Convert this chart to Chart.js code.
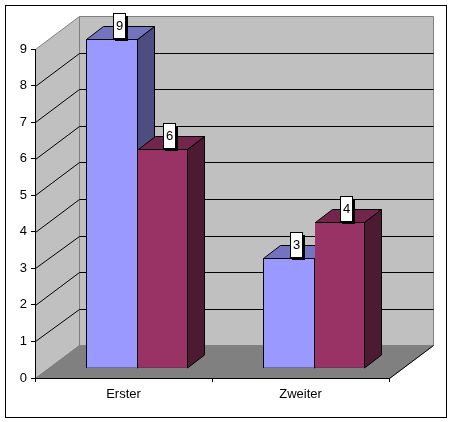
<!DOCTYPE html>
<html>
<head>
<meta charset="utf-8">
<title>Chart</title>
<script src="https://cdn.jsdelivr.net/npm/chart.js@4"></script>
<style>
	html, body { margin: 0; padding: 0; background: #fff; }
	canvas { display: block; }
</style>
</head>
<body>
<canvas id="bar-chart" width="452" height="422"></canvas>
<script>
var categories = ["Erster", "Zweiter"];
var series1 = [9, 3];
var series2 = [6, 4];
var yTicks = [0, 1, 2, 3, 4, 5, 6, 7, 8, 9];

// wall depth and how far the bars sit inside it
var wallX = 44, wallY = -32.8;
var barShiftX = 14, barShiftY = -10;
var barDepthX = 17, barDepthY = -13;

function poly(ctx, pts, fill, stroke) {
	ctx.beginPath();
	ctx.moveTo(pts[0][0], pts[0][1]);
	for (var i = 1; i < pts.length; i++) {
		ctx.lineTo(pts[i][0], pts[i][1]);
	}
	ctx.closePath();
	if (fill) {
		ctx.fillStyle = fill;
		ctx.fill();
	}
	if (stroke) {
		ctx.strokeStyle = stroke;
		ctx.lineWidth = 1;
		ctx.stroke();
	}
}

function line(ctx, x1, y1, x2, y2, color) {
	ctx.beginPath();
	ctx.moveTo(x1, y1);
	ctx.lineTo(x2, y2);
	ctx.strokeStyle = color;
	ctx.lineWidth = 1;
	ctx.stroke();
}

var box3d = {
	id: 'box3d',
	beforeDraw: function(chart) {
		var ctx = chart.ctx, a = chart.chartArea;
		var left = a.left + 0.5, right = a.right + 0.5;
		var top = a.top + 0.5, bottom = a.bottom + 0.5;
		var backL = left + wallX, backR = right + wallX;
		var backT = Math.round(a.top + wallY) + 0.5, backB = Math.round(a.bottom + wallY) + 0.5;
		ctx.save();
		ctx.fillStyle = '#fff';
		ctx.fillRect(0, 0, chart.width, chart.height);
		ctx.strokeStyle = '#000';
		ctx.lineWidth = 1;
		ctx.strokeRect(5.5, 5.5, 441, 412);

		// back wall, left wall, floor
		poly(ctx, [[backL, backT], [backR, backT], [backR, backB], [backL, backB]], '#c0c0c0', '#808080');
		poly(ctx, [[left, top], [backL, backT], [backL, backB], [left, bottom]], '#c0c0c0', '#808080');
		poly(ctx, [[left, bottom], [backL, backB], [backR, backB], [right, bottom]], '#808080', '#808080');
		line(ctx, right, bottom, backR, backB, '#000');

		// gridlines run across the left wall and the back wall
		var y = chart.scales.y;
		yTicks.forEach(function(v) {
			if (v === 0 || v === 9) return;
			var py = y.getPixelForValue(v);
			var front = Math.round(py) + 0.5, back = Math.round(py + wallY) + 0.5;
			line(ctx, left, front, backL, back, '#000');
			line(ctx, backL, back, backR, back, '#000');
		});
		ctx.restore();
	},
	beforeDatasetsDraw: function(chart) {
		var ctx = chart.ctx;
		// snap the bars to whole pixels so their outlines stay one pixel wide
		chart.data.datasets.forEach(function(ds, i) {
			chart.getDatasetMeta(i).data.forEach(function(bar) {
				var l = bar.x - bar.width / 2, r = bar.x + bar.width / 2;
				l = i === 0 ? Math.floor(l) : Math.ceil(l);
				r = i === 0 ? Math.ceil(r) : Math.floor(r);
				bar.x = (l + r) / 2;
				bar.width = r - l;
				bar.y = Math.round(bar.y + barShiftY) - barShiftY;
				bar.base = bar.base + 1;
			});
		});
		ctx.save();
		ctx.translate(barShiftX, barShiftY);
		chart.data.datasets.forEach(function(ds, i) {
			chart.getDatasetMeta(i).data.forEach(function(bar) {
				var l = bar.x - bar.width / 2 + 0.5, r = bar.x + bar.width / 2 - 0.5;
				var t = bar.y + 0.5, b = bar.base - 0.5;
				poly(ctx, [[r, t], [r + barDepthX, t + barDepthY], [r + barDepthX, b + barDepthY], [r, b]], ds.sideColor, '#000');
				poly(ctx, [[l, t], [l + barDepthX, t + barDepthY], [r + barDepthX, t + barDepthY], [r, t]], ds.topColor, '#000');
			});
		});
	},
	afterDatasetsDraw: function(chart) {
		var ctx = chart.ctx;
		ctx.restore();
		ctx.save();
		ctx.font = '13px "Liberation Sans"';
		ctx.textAlign = 'center';
		ctx.textBaseline = 'middle';
		chart.data.datasets.forEach(function(ds, i) {
			chart.getDatasetMeta(i).data.forEach(function(bar, j) {
				var cx = Math.round(bar.x - bar.width / 2 + barShiftX + bar.width * 0.625);
				var bottom = Math.round(bar.y + barShiftY);
				ctx.fillStyle = '#000';
				ctx.fillRect(cx - 4, bottom - 23, 13, 25);
				ctx.fillStyle = '#fff';
				ctx.fillRect(cx - 6, bottom - 26, 12, 25);
				ctx.strokeStyle = '#000';
				ctx.lineWidth = 1;
				ctx.strokeRect(cx - 5.5, bottom - 25.5, 12, 25);
				ctx.fillStyle = '#000';
				ctx.fillText(ds.data[j], cx + 0.5, bottom - 12.5);
			});
		});
		ctx.restore();
	}
};

var myBarChart = new Chart($('bar-chart'), {
	type: 'bar',
	plugins: [box3d],
	data: {
		labels: categories,
		datasets: [
			{
				label: 'Reihe 1',
				data: series1,
				backgroundColor: '#9999ff',
				topColor: '#7373bf',
				sideColor: '#4d4d80',
				borderColor: '#000',
				borderWidth: { left: 1, top: 1, bottom: 1, right: 1 },
				borderSkipped: false
			},
			{
				label: 'Reihe 2',
				data: series2,
				backgroundColor: '#993366',
				topColor: '#73264d',
				sideColor: '#4d1a33',
				borderColor: '#000',
				borderWidth: { left: 0, top: 1, bottom: 1, right: 1 },
				borderSkipped: false
			}
		]
	},
	options: {
		responsive: false,
		animation: false,
		layout: {
			padding: { left: 0, top: 49, right: 63, bottom: 0 }
		},
		plugins: {
			legend: { display: false },
			tooltip: { enabled: false }
		},
		datasets: {
			bar: { barPercentage: 1, categoryPercentage: 102 / 177 }
		},
		scales: {
			x: {
				afterFit: function(scale) { scale.height = 44; },
				grid: { drawOnChartArea: false, color: '#000', tickLength: 4 },
				border: { color: '#000' },
				ticks: { color: '#000', font: { family: '"Liberation Sans"', size: 13 }, padding: 5, maxRotation: 0 }
			},
			y: {
				min: 0,
				max: 9,
				afterFit: function(scale) { scale.width = 35; },
				afterBuildTicks: function(scale) {
					scale.ticks = yTicks.map(function(v) { return { value: v }; });
				},
				grid: { drawOnChartArea: false, color: '#000', tickLength: 4 },
				border: { color: '#000' },
				ticks: { color: '#000', font: { family: '"Liberation Sans"', size: 13 }, padding: 4 }
			}
		}
	}
});

function $(id) {
	return document.getElementById(id);
}
</script>
</body>
</html>
